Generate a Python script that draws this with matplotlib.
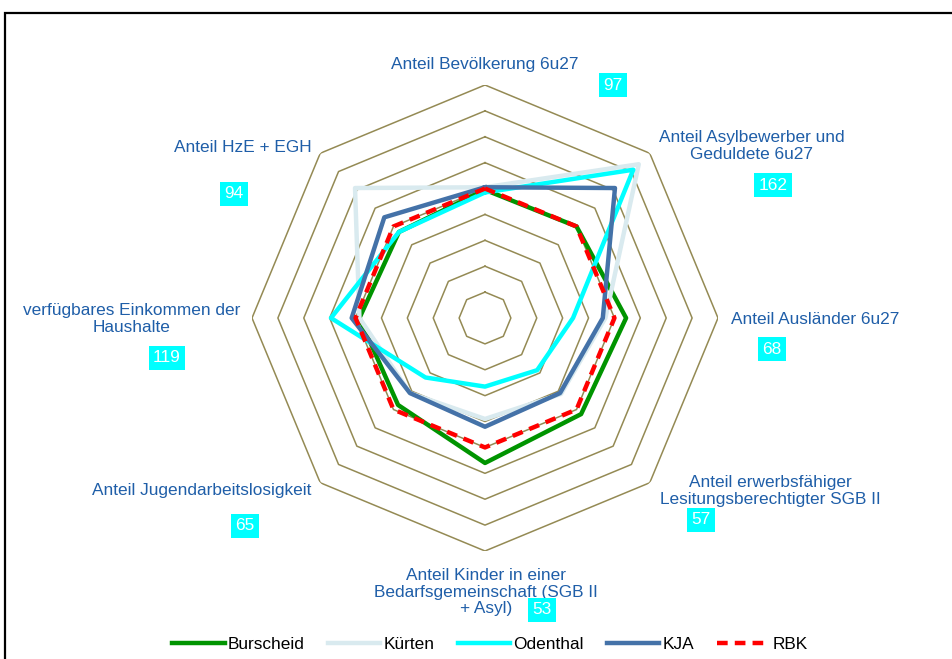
import numpy as np
import matplotlib
matplotlib.use("Agg")
import matplotlib.pyplot as plt
from matplotlib.patches import Rectangle

plt.rcParams['font.family'] = ['Liberation Sans', 'DejaVu Sans']

categories = [
    "Anteil Bevölkerung 6u27",
    "Anteil Asylbewerber und\nGeduldete 6u27",
    "Anteil Ausländer 6u27",
    "Anteil erwerbsfähiger\nLesitungsberechtigter SGB II",
    "Anteil Kinder in einer\nBedarfsgemeinschaft (SGB II\n+ Asyl)",
    "Anteil Jugendarbeitslosigkeit",
    "verfügbares Einkommen der\nHaushalte",
    "Anteil HzE + EGH",
]
burscheid = [99, 100, 109, 105, 112, 95, 97, 94]
kuerten = [101, 168, 93, 83, 78, 82, 97, 142]
odenthal = [97, 162, 68, 57, 53, 65, 119, 94]
kja = [101, 142, 91, 82, 84, 82, 103, 110]
rbk = [100, 100, 100, 100, 100, 100, 100, 100]
ring_levels = [20, 40, 60, 80, 100, 120, 140, 160, 180]

series = [
    ("Burscheid", burscheid, "#009400", "-"),
    ("Kürten", kuerten, "#d9eaef", "-"),
    ("Odenthal", odenthal, "#00ffff", "-"),
    ("KJA", kja, "#4472a8", "-"),
    ("RBK", rbk, "#ff0000", "--"),
]

W, H = 952, 659
fig = plt.figure(figsize=(W / 100, H / 100), dpi=100)

cx, cy, R = 485, 318, 233
ax = fig.add_axes([(cx - R) / W, (H - cy - R) / H, 2 * R / W, 2 * R / H], projection="polar")
ax.set_theta_offset(np.pi / 2)
ax.set_theta_direction(-1)
ax.set_ylim(0, 180)
ax.grid(False)
ax.set_xticks([])
ax.set_yticks([])
ax.spines["polar"].set_visible(False)
ax.patch.set_alpha(0)

n = len(categories)
angles = np.linspace(0, 2 * np.pi, n, endpoint=False)
ang_closed = np.append(angles, angles[0])

for lv in ring_levels:
    ax.plot(ang_closed, [lv] * (n + 1), color="#948a54", lw=1.1, zorder=1)

handles = []
for name, vals, col, ls in series:
    v = list(vals) + [vals[0]]
    if ls == "--":
        h, = ax.plot(ang_closed, v, color=col, lw=3.2, ls=(0, (2.4, 1.6)), label=name, zorder=3)
    else:
        h, = ax.plot(ang_closed, v, color=col, lw=3.2, label=name, zorder=2)
    handles.append(h)

label_pos = [(485, 65), (752, 146), (815, 320), (770, 491), (486, 592), (202, 491), (132, 319), (243, 147)]
box_pos = [(613, 85), (773, 185), (772, 349), (701, 520), (542, 610), (245, 526), (167, 358), (234, 194)]

FS = 12.4
for cat, (lx, ly) in zip(categories, label_pos):
    fig.text(lx / W, 1 - ly / H, cat, ha="center", va="center", fontsize=FS,
             color="#1f5ea8", linespacing=1.13)

for val, (bx, by) in zip(odenthal, box_pos):
    fig.text(bx / W, 1 - by / H, str(val), ha="center", va="center", fontsize=FS,
             color="white", bbox=dict(boxstyle="square,pad=0.25", fc="#00ffff", ec="none"))

fig.legend(handles=handles, loc="center", bbox_to_anchor=(490 / W, 1 - 644 / H), ncol=5,
           frameon=False, fontsize=12.4, handlelength=3.05, handletextpad=0.17,
           columnspacing=1.35)

fig.add_artist(Rectangle((4.5 / W, -0.1), 1.2, 1 - 12.5 / H + 0.1, transform=fig.transFigure,
                         fill=False, ec="black", lw=1.6))

fig.savefig("out.png", dpi=100)
